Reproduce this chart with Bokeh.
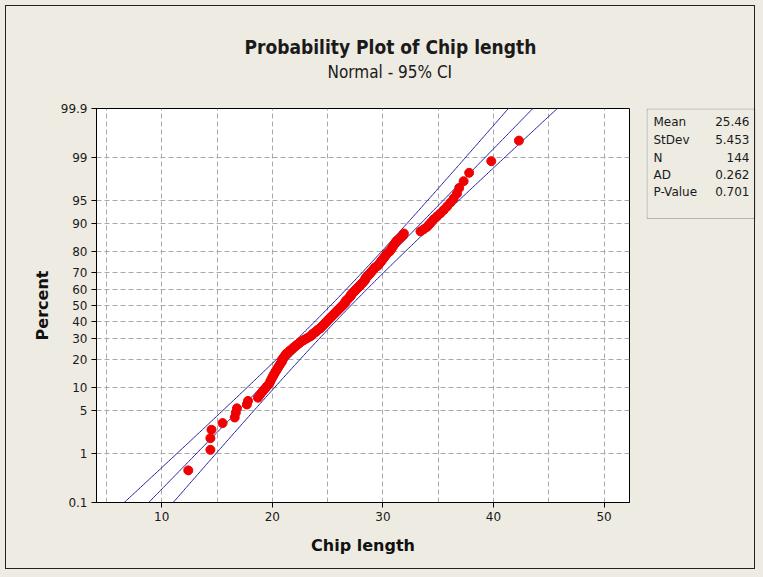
from statistics import NormalDist
import numpy as np
from bokeh.plotting import figure
from bokeh.layouts import row
from bokeh.models import (FixedTicker, CustomJSTickFormatter, ColumnDataSource, Range1d,
                          Title, BoxAnnotation, InlineStyleSheet)
from bokeh.core.properties import value
from bokeh.embed import file_html
from bokeh.resources import INLINE

# ---------------- data ----------------
chip_length = [
    12.4, 14.4, 14.4, 14.5, 15.5, 16.6, 16.7, 16.8, 17.7, 17.8,
    18.7, 18.9, 19.1, 19.3, 19.5, 19.7, 19.8, 19.9, 20.0, 20.1,
    20.2, 20.3, 20.4, 20.5, 20.6, 20.7, 20.8, 20.9, 20.9, 21.0,
    21.1, 21.2, 21.3, 21.5, 21.6, 21.8, 21.9, 22.1, 22.2, 22.4,
    22.5, 22.7, 22.9, 23.1, 23.3, 23.5, 23.6, 23.7, 23.9, 24.0,
    24.1, 24.3, 24.4, 24.5, 24.6, 24.7, 24.8, 24.9, 25.0, 25.1,
    25.2, 25.3, 25.4, 25.5, 25.6, 25.7, 25.8, 25.9, 26.0, 26.1,
    26.2, 26.3, 26.4, 26.5, 26.6, 26.6, 26.7, 26.8, 26.9, 27.0,
    27.1, 27.1, 27.2, 27.3, 27.4, 27.5, 27.6, 27.7, 27.8, 27.9,
    28.0, 28.1, 28.2, 28.3, 28.4, 28.4, 28.5, 28.6, 28.7, 28.8,
    28.9, 29.0, 29.1, 29.2, 29.3, 29.5, 29.6, 29.7, 29.8, 29.9,
    30.0, 30.1, 30.2, 30.3, 30.4, 30.6, 30.7, 30.8, 30.9, 31.0,
    31.1, 31.2, 31.4, 31.6, 31.8, 31.9, 33.4, 33.7, 34.0, 34.2,
    34.4, 34.6, 34.9, 35.2, 35.5, 35.8, 36.1, 36.4, 36.7, 36.9,
    37.3, 37.8, 39.8, 42.3,
]

stat_names = ["Mean", "StDev", "N", "AD", "P-Value"]
stat_values = ["25.46", "5.453", "144", "0.262", "0.701"]
n_obs = 144
# fitted line as drawn in the picture (location / scale)
line_mu = 26.19
line_sigma = 5.62

percent_ticks = [0.1, 1, 5, 10, 20, 30, 40, 50, 60, 70, 80, 90, 95, 99, 99.9]
percent_labels = ["0.1", "1", "5", "10", "20", "30", "40", "50", "60", "70",
                  "80", "90", "95", "99", "99.9"]
x_ticks = [10, 20, 30, 40, 50]
x_grid = [5, 10, 15, 20, 25, 30, 35, 40, 45, 50]

title_text = "Probability Plot of Chip length"
subtitle_text = "Normal - 95% CI"
x_label = "Chip length"
y_label = "Percent"

# ---------------- derived (probability scale) ----------------
nd = NormalDist()
n = len(chip_length)
plot_pos = [(i - 0.3) / (n + 0.4) for i in range(1, n + 1)]   # median ranks
z_pts = [nd.inv_cdf(p) for p in plot_pos]
z_ticks = [nd.inv_cdf(v / 100.0) for v in percent_ticks]

zz = np.linspace(-3.4, 3.4, 300)
centre = line_mu + line_sigma * zz
half = 1.96 * line_sigma * np.sqrt(1.0 / n_obs + zz ** 2 / (2.0 * (n_obs - 1)))

BG = "#EEEBE2"
FONT = "DejaVu Sans"
TFONT = "DejaVu Sans Condensed"

border_css = InlineStyleSheet(css="""
:host::after {
  content: "";
  position: absolute;
  left: 5px; top: 5px;
  width: 750px; height: 564px;
  border: 1.5px solid #222222;
  pointer-events: none;
  z-index: 50;
}
""")

p = figure(width=640, height=577, output_backend="svg", toolbar_location=None,
           x_range=Range1d(4.1, 52.3), y_range=Range1d(z_ticks[0], z_ticks[-1]),
           min_border_left=96, min_border_right=11, min_border_top=108,
           min_border_bottom=75, stylesheets=[border_css])
p.border_fill_color = BG
p.background_fill_color = "white"
p.outline_line_color = "black"
p.outline_line_width = 1

# titles (left-aligned with an offset so that they centre at x ~ 390)
p.add_layout(Title(text=subtitle_text, align="left", offset=231, standoff=54,
                   text_font=TFONT, text_font_size="17px",
                   text_font_style="normal", text_color="#1a1a1a"), "above")
p.add_layout(Title(text=title_text, align="left", offset=148, standoff=-50,
                   text_font=TFONT, text_font_size="19px",
                   text_font_style="bold", text_color="#1a1a1a"), "above")

# grid
p.xgrid.ticker = FixedTicker(ticks=x_grid)
p.ygrid.ticker = FixedTicker(ticks=z_ticks)
for g in (p.xgrid, p.ygrid):
    g.grid_line_color = "#A9A9A9"
    g.grid_line_dash = "5 3"
    g.grid_line_width = 1

# axes
p.xaxis.ticker = FixedTicker(ticks=x_ticks)
p.yaxis.ticker = FixedTicker(ticks=z_ticks)
p.yaxis.formatter = CustomJSTickFormatter(args=dict(t=z_ticks, l=percent_labels), code="""
    let best = 0;
    for (let i = 1; i < t.length; i++) {
        if (Math.abs(t[i] - tick) < Math.abs(t[best] - tick)) best = i;
    }
    return l[best];
""")
for ax in (p.xaxis, p.yaxis):
    ax.axis_line_color = "black"
    ax.major_tick_line_color = "black"
    ax.major_tick_out = 5
    ax.major_tick_in = 0
    ax.minor_tick_line_color = None
    ax.major_label_text_font = FONT
    ax.major_label_text_font_size = "12px"
    ax.major_label_text_color = "#1a1a1a"
    ax.axis_label_text_font = FONT
    ax.axis_label_text_font_style = "bold"
    ax.axis_label_text_font_size = "16px"
    ax.axis_label_text_color = "#111111"
p.xaxis.axis_label = x_label
p.yaxis.axis_label = y_label
p.xaxis.major_label_standoff = 4
p.yaxis.major_label_standoff = 4
p.xaxis.axis_label_standoff = 12
p.yaxis.axis_label_standoff = 6

# fit line and CI bands
LC = "#2020A0"
p.line(centre, zz, line_color=LC, line_width=1)
p.line(centre - half, zz, line_color=LC, line_width=1)
p.line(centre + half, zz, line_color=LC, line_width=1)

src = ColumnDataSource(dict(x=chip_length, z=z_pts))
p.scatter("x", "z", source=src, size=9, fill_color="#F00000", line_color="#F00000")

# ---------------- statistics box (its own small figure, same frame height) --------
s = figure(width=123, height=577, output_backend="svg", toolbar_location=None,
           x_range=Range1d(0, 109), y_range=Range1d(394, 0),
           min_border_left=6, min_border_right=8, min_border_top=108,
           min_border_bottom=75)
s.axis.visible = False
s.grid.visible = False
s.border_fill_color = BG
s.background_fill_color = BG
s.outline_line_color = None
s.add_layout(BoxAnnotation(left=0.5, right=108.5, top=0.5, bottom=110,
                           fill_alpha=0.0, line_color="#333333", line_width=1))
row_pos = [13, 31, 49, 66, 83]
s.text(x=[7] * len(stat_names), y=row_pos, text=stat_names,
       text_font=value(FONT), text_font_size="12px", text_baseline="middle",
       text_align="left", text_color="#1a1a1a")
s.text(x=[103] * len(stat_values), y=row_pos, text=stat_values,
       text_font=value(FONT), text_font_size="12px", text_baseline="middle",
       text_align="right", text_color="#1a1a1a")

layout = row(p, s, spacing=0, styles={"background-color": BG})

open("out.html", "w").write(file_html(layout, INLINE))
